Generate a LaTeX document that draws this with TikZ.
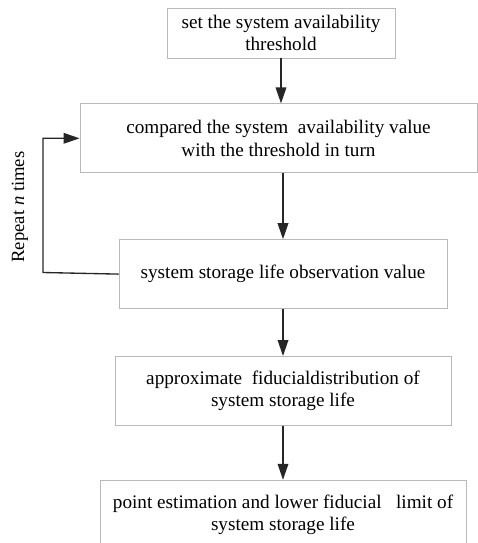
\documentclass[tikz,border=0pt]{standalone}
\usepackage{fontspec}
\setmainfont{Liberation Serif}
\usepackage{xcolor}
\usetikzlibrary{positioning,arrows.meta}

\begin{document}
\begin{tikzpicture}[
x=0.75pt, y=-0.75pt,
node distance=35pt,
box/.style={draw=gray!55, line width=0.6pt, minimum height=51.75pt, inner sep=0pt, align=center, font=\fontsize{14.4}{16.8}\selectfont},
arrow/.style={-{Triangle[length=12pt, width=8pt]}, line width=1pt, black!85}
]
\useasboundingbox (0,0) rectangle (478,543);
\node[box, minimum width=171pt, minimum height=37.5pt] (set) at (281,33) {set the system availability\\threshold};
\node[box, minimum width=297.75pt, below=33.75pt of set, xshift=-1.9pt] (cmp) {compared the system \ availability value\\with the threshold in turn};
\node[box, minimum width=246pt, below=49.5pt of cmp, xshift=3.4pt] (obs) {system storage life observation value};
\node[box, minimum width=252pt, below=35.25pt of obs] (fid) {approximate \ fiducialdistribution of\\system storage life};
\node[box, minimum width=274.5pt, below=40.5pt of fid] (est) {point estimation and lower fiducial \ \ limit of\\system storage life};
\coordinate (loop) at (43,272.5);
\node[rotate=90, font=\fontsize{14}{16}\selectfont] (rep) at (20,207) {Repeat \textit{n} times};
\draw[arrow] (set.south) -- (set.south |- cmp.north);
\draw[arrow] (obs.north |- cmp.south) -- (obs.north);
\draw[arrow] (obs.south) -- (fid.north);
\draw[arrow] (fid.south) -- (est.north);
\draw[arrow] (obs.west) -- (loop) |- (cmp.west);
\end{tikzpicture}
\end{document}
